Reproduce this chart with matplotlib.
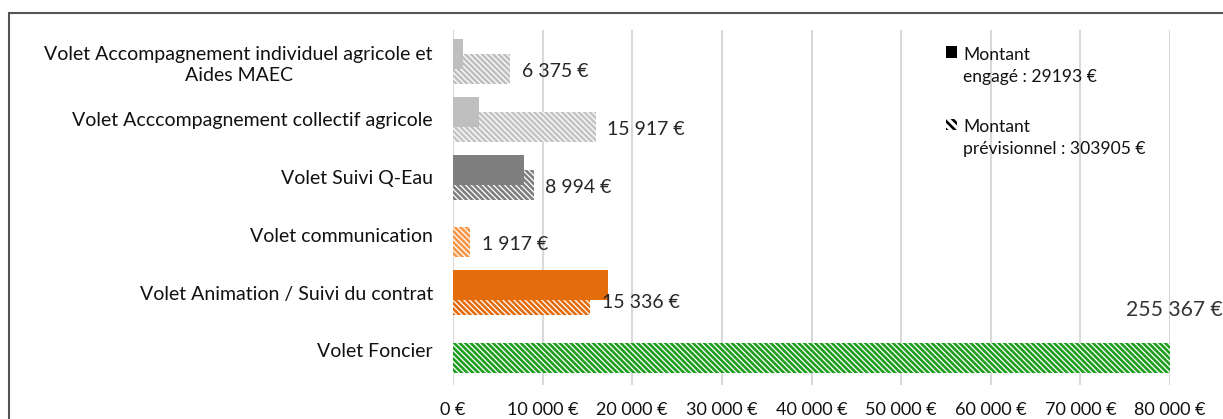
import matplotlib.pyplot as plt
from matplotlib.patches import Patch, Rectangle
from matplotlib.ticker import FuncFormatter

plt.rcParams["font.family"] = ["Lato", "DejaVu Sans"]
plt.rcParams["hatch.linewidth"] = 1.9

categories = [
    "Volet Accompagnement individuel agricole et\nAides MAEC",
    "Volet Acccompagnement collectif agricole",
    "Volet Suivi Q-Eau",
    "Volet communication",
    "Volet Animation / Suivi du contrat",
    "Volet Foncier",
]
engage = [1100, 2900, 7950, 0, 17243, 0]
previsionnel = [6375, 15917, 8994, 1917, 15336, 255367]
prev_labels = ["6 375 €", "15 917 €", "8 994 €", "1 917 €", "15 336 €", "255 367 €"]
solid_colors = ["#bfbfbf", "#bfbfbf", "#7f7f7f", "#f4a46a", "#e46c0a", "#2ca02c"]
hatch_colors = ["#bfbfbf", "#c4c4c4", "#7f7f7f", "#f79646", "#e46c0a", "#1f9e1f"]
xticks = [0, 10000, 20000, 30000, 40000, 50000, 60000, 70000, 80000]
legend_labels = ["Montant\nengagé : 29193 €", "Montant\nprévisionnel : 303905 €"]

XMAX = 80000
H = 0.52
OFF = 0.13
HATCH = "\\" * 6

fig = plt.figure(figsize=(12.23, 4.19), dpi=100)
ax = fig.add_axes([453 / 1223, 1 - 385 / 419, (1170 - 453) / 1223, (385 - 30) / 419])

pos = list(range(len(categories)))
for i in pos:
    ax.barh(i + OFF, min(previsionnel[i], XMAX), height=H, facecolor="white",
            edgecolor=hatch_colors[i], linewidth=0, hatch=HATCH, zorder=2)
    if engage[i] > 0:
        ax.barh(i - OFF, engage[i], height=H, color=solid_colors[i],
                linewidth=0, zorder=3)
    if previsionnel[i] <= XMAX:
        ax.text(previsionnel[i] + 1300, i + OFF + 0.04, prev_labels[i],
                va="center", ha="left", fontsize=14, color="#262626", zorder=4)
    else:
        ax.text(75100, i - 0.7, prev_labels[i], va="center", ha="left",
                fontsize=15.2, color="#333333", clip_on=False, zorder=4)

ax.set_xlim(0, XMAX)
ax.set_ylim(5.6, -0.55)
ax.set_yticks(pos)
ax.set_yticklabels(categories, fontsize=14, multialignment="center",
                   linespacing=1.25, color="#111111")
ax.set_xticks(xticks)
ax.xaxis.set_major_formatter(FuncFormatter(lambda v, p: f"{int(v):,} €".replace(",", " ")))
ax.tick_params(axis="x", labelsize=13, length=0, pad=12, labelcolor="#111111")
ax.tick_params(axis="y", length=0, pad=14.5)
ax.grid(axis="x", color="#d9d9d9", linewidth=1.5, zorder=0)
ax.set_axisbelow(True)
for s in ax.spines.values():
    s.set_visible(False)

handles = [
    Patch(facecolor="black", edgecolor="black", linewidth=0),
    Patch(facecolor="white", edgecolor="black", linewidth=0, hatch="\\" * 4),
]
leg = ax.legend(handles, legend_labels, loc="upper left",
                bbox_to_anchor=(930 / 1223, 1 - 31 / 419), bbox_transform=fig.transFigure,
                frameon=False, fontsize=12.6, handlelength=0.65, handleheight=0.65,
                handletextpad=0.35, labelspacing=1.97)
for t in leg.get_texts():
    t.set_linespacing(1.45)
    t.set_color("#111111")
for h in leg.legend_handles:
    h.set_y(h.get_y() + 10)

fig.patches.append(Rectangle((9 / 1223, -0.1), 1.2, 1.1 - 13 / 419, transform=fig.transFigure,
                             fill=False, edgecolor="#555555", linewidth=1.5))

fig.savefig("out.png", dpi=100)
